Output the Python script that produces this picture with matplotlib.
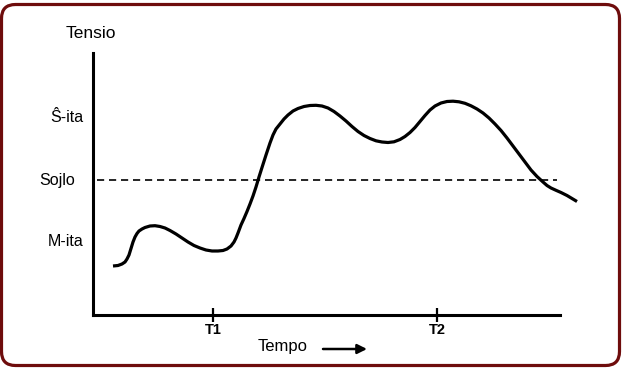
import matplotlib
matplotlib.use("Agg")
import matplotlib.pyplot as plt
from matplotlib.patches import FancyBboxPatch
from matplotlib.transforms import IdentityTransform

plt.rcParams['font.family'] = ['Liberation Sans', 'DejaVu Sans']

# Data (arbitrary units: time on x, tension on y)
time = [20, 25, 29, 32, 34, 36, 38, 40, 42, 44, 46, 49, 52, 57, 62, 67, 72, 77, 83,
        89, 95, 101, 107, 113, 119, 125, 130, 134, 138, 141, 143, 145, 148, 151,
        154, 157, 160, 163, 166, 169, 173, 177, 180, 183, 187, 191, 195, 200, 205,
        211, 217, 223, 229, 235, 241, 247, 253, 259, 265, 271, 277, 283, 289, 295,
        301, 307, 312, 317, 322, 327, 332, 337, 342, 348, 354, 360, 366, 372, 378,
        384, 390, 396, 402, 408, 414, 420, 426, 432, 438, 444, 450, 454, 458, 463,
        468, 474, 479, 484]
tension = [49, 49.5, 51, 53, 56, 60, 66.5, 73, 78, 81.5, 84, 86, 87.5, 89, 89.3,
           88.5, 87, 84.5, 81, 77, 73, 69.5, 67, 65, 64, 64, 64.5, 66, 69, 73, 77,
           82, 90, 96.5, 103.5, 111, 119, 128, 138, 147.5, 160, 172, 180, 186, 191,
           196, 200, 204, 206.5, 208.5, 209.5, 209.7, 209, 207, 203.5, 199, 194,
           188.5, 183.5, 179.5, 176.5, 174.2, 173, 172.5, 173.2, 175.5, 178.5, 182.5,
           187.5, 193.5, 199.5, 205, 209, 212, 213.5, 213.8, 213.2, 211.7, 209.2,
           206, 202, 197, 191, 184.5, 177, 169, 161, 153, 145, 138.5, 133, 129.5,
           127, 124.7, 122.5, 119.5, 116.5, 113.5]

threshold = 135
threshold_span = [4, 464]
ytick_values = [197, 135, 73]
ytick_labels = ["Ŝ-ita", "Sojlo", "M-ita"]
xtick_values = [120, 344]
xtick_labels = ["T1", "T2"]

fig = plt.figure(figsize=(6.24, 3.69), dpi=100)
ax = fig.add_axes([93/624, 54/369, 467/624, 262/369])
ax.set_xlim(0, 467)
ax.set_ylim(0, 262)

ax.plot(time, tension, color='black', lw=2.3, clip_on=False,
        solid_capstyle='butt', solid_joinstyle='round')
ax.plot(threshold_span, [threshold, threshold], color='black', lw=1.2,
        dashes=(4.3, 2.9), clip_on=False)

for s in ['top', 'right']:
    ax.spines[s].set_visible(False)
for s in ['left', 'bottom']:
    ax.spines[s].set_linewidth(2.2)
    ax.spines[s].set_color('black')

ax.set_yticks([])
ax.set_xticks(xtick_values)
ax.set_xticklabels(xtick_labels, fontsize=10.5, fontweight='bold')
ax.tick_params(axis='x', direction='inout', length=9.5, width=1.6, pad=1)

ytrans = ax.get_yaxis_transform()
label_x = [-0.0214, -0.0385, -0.0214]
for v, lab, lx in zip(ytick_values, ytick_labels, label_x):
    ax.text(lx, v, lab, transform=ytrans, ha='right', va='center', fontsize=11.5)

fig.text(90.5/624, (369-33)/369, "Tensio", ha='center', va='center', fontsize=12.5)
fig.text(282.5/624, (369-346)/369, "Tempo", ha='center', va='center', fontsize=12)
ax.annotate('', xy=(367, 20), xytext=(323, 20), xycoords='figure pixels',
            textcoords='figure pixels',
            arrowprops=dict(arrowstyle='-|>', lw=1.8, color='black',
                            mutation_scale=14, shrinkA=0, shrinkB=0))

border = FancyBboxPatch((1.5, 3.5), 618, 361,
                        boxstyle="round,pad=0,rounding_size=14",
                        transform=IdentityTransform(), fill=False,
                        edgecolor='#6e0c0c', lw=2.3)
fig.add_artist(border)

fig.savefig('out.png', dpi=100)
